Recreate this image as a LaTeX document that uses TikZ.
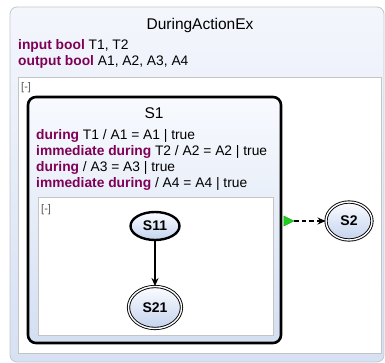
\documentclass[tikz,border=0pt]{standalone}
\usepackage{fontspec}
\setmainfont{Liberation Sans}
\usetikzlibrary{shapes.geometric,arrows.meta}
\definecolor{kw}{HTML}{7F0055}
\definecolor{outertop}{HTML}{F4F6FC}
\definecolor{outerbot}{HTML}{D6E1F3}
\definecolor{outerline}{HTML}{C2C8D2}
\definecolor{regionline}{HTML}{C4C4C4}
\definecolor{supertop}{HTML}{F8FAFE}
\definecolor{superbot}{HTML}{D3DFF2}
\definecolor{statetop}{HTML}{FBFCFF}
\definecolor{statebot}{HTML}{C3D3EE}
\definecolor{trigreen}{HTML}{1FD01F}
\definecolor{collapse}{HTML}{555555}
\tikzset{
  outerbox/.style={draw=outerline, line width=0.8pt, rounded corners=7pt,
    top color=outertop, bottom color=outerbot, inner sep=0pt},
  regionbox/.style={draw=regionline, line width=0.6pt, fill=white, inner sep=0pt},
  superstate/.style={draw=black, line width=2.6pt, rounded corners=8pt,
    top color=supertop, bottom color=superbot, inner sep=0pt},
  titletext/.style={inner sep=0pt, font=\fontsize{15.5}{18}\selectfont},
  decltext/.style={inner sep=0pt, anchor=west, font=\fontsize{13.8}{16}\selectfont},
  collapsetext/.style={inner sep=0pt, anchor=west, text=collapse, font=\fontsize{11}{13}\selectfont},
  statebase/.style={ellipse, inner sep=0pt, top color=statetop, bottom color=statebot,
    font=\fontsize{14}{16}\selectfont\bfseries},
  initstate/.style={statebase, draw=black, line width=2.4pt},
  finalstate/.style={statebase, draw=black, line width=0.9pt, double=white, double distance=1.4pt},
  trans/.style={draw=black, line width=1.5pt, -{Stealth[length=8pt,width=7pt]}},
  dashtrans/.style={trans, dash pattern=on 4.5pt off 3pt},
  greentri/.style={isosceles triangle, isosceles triangle stretches, fill=trigreen,
    draw=trigreen!80!black, line width=0.4pt, inner sep=0pt, minimum width=10pt, minimum height=10pt}
}
\newcommand{\kwd}[1]{\textcolor{kw}{\textbf{#1}}}
\begin{document}
\begin{tikzpicture}[x=1pt,y=-1pt]
\useasboundingbox (0,0) rectangle (385,363);
% outer state
\node[outerbox, minimum width=374pt, minimum height=355pt] (outer) at (197,184.5) {};
\node[titletext] (title) at (200,25) {DuringActionEx};
\node[decltext] (inp) at (18,46) {\kwd{input bool} T1, T2};
\node[decltext] (outp) at (18,62) {\kwd{output bool} A1, A2, A3, A4};
% outer region
\node[regionbox, minimum width=363pt, minimum height=276pt] (region) at (199.5,215) {};
\node[collapsetext] (col1) at (21,88) {[-]};
% superstate S1
\node[superstate, minimum width=253pt, minimum height=246pt] (S1) at (154.5,220) {};
\node[titletext] (S1title) at (154,113) {S1};
\node[decltext] (a1) at (36,136) {\kwd{during} T1 / A1 = A1 | true};
\node[decltext] (a2) at (36,152) {\kwd{immediate during} T2 / A2 = A2 | true};
\node[decltext] (a3) at (36,168) {\kwd{during} / A3 = A3 | true};
\node[decltext] (a4) at (36,184) {\kwd{immediate during} / A4 = A4 | true};
% inner region
\node[regionbox, minimum width=235pt, minimum height=138pt] (inner) at (155.5,266) {};
\node[collapsetext] (col2) at (41,210) {[-]};
% states
\node[initstate, minimum width=49pt, minimum height=28pt] (S11) at (155,226) {S11};
\node[finalstate, minimum width=53pt, minimum height=42pt] (S21) at (155,307.5) {S21};
\node[finalstate, minimum width=46pt, minimum height=38pt] (S2) at (349,221) {S2};
% transitions
\draw[trans] (S11) -- (S21);
\node[greentri] (tri) at (287,221) {};
\draw[dashtrans] (tri.apex) -- (S2);
\end{tikzpicture}
\end{document}
